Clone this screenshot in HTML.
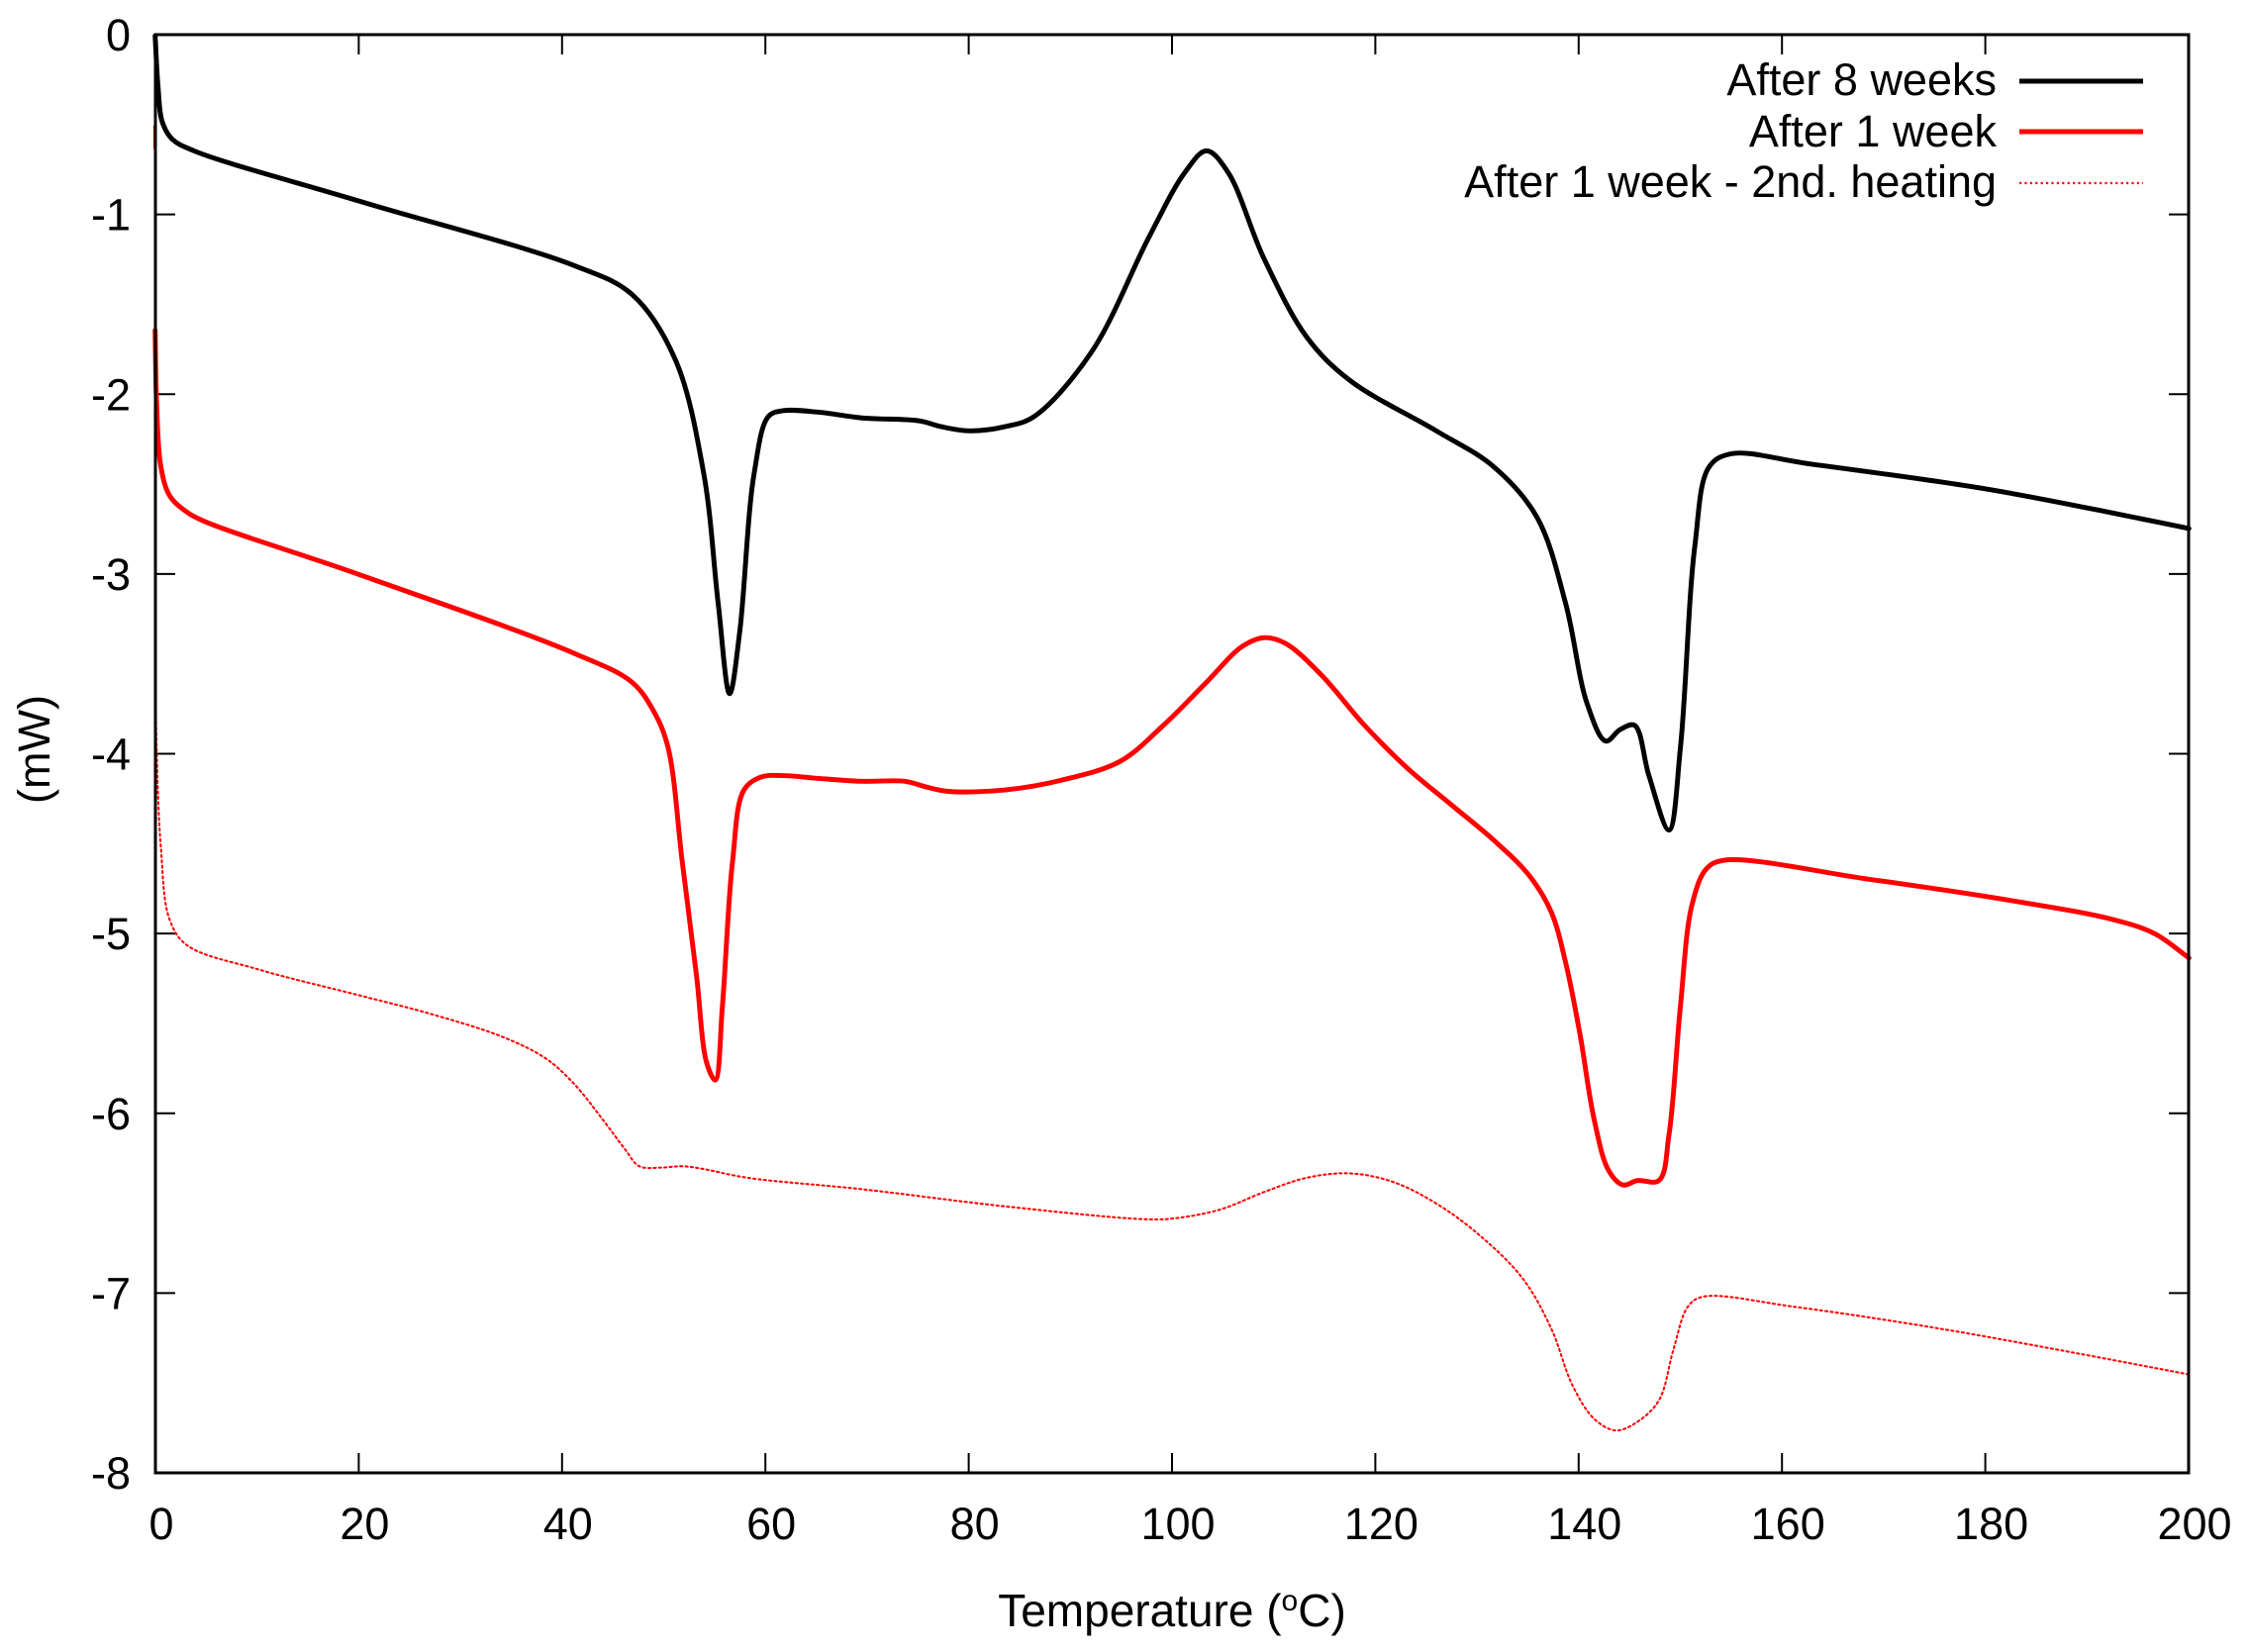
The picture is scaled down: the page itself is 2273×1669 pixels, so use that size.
<!DOCTYPE html>
<html><head><meta charset="utf-8"><style>
html,body{margin:0;padding:0;background:#fff;}
svg{display:block;}
text{font-family:"Liberation Sans",Arial,sans-serif;fill:#000;}
</style></head><body>
<svg id="s" width="2273" height="1669" viewBox="0 0 2273 1669" xmlns="http://www.w3.org/2000/svg">
<rect x="0" y="0" width="2273" height="1669" fill="#fff"/>
<g id="ticks" stroke="#000" stroke-width="2"></g>
<g id="labels" font-size="45"></g>
<g transform="scale(1.451)" fill="none" stroke-linejoin="round" stroke-linecap="round">
<path id="pd" stroke="#ff0000" stroke-width="1.4" stroke-dasharray="1.5 2.2"/>
<path id="pr" stroke="#ff0000" stroke-width="3.4"/>
<path id="pb" stroke="#000" stroke-width="3.4"/>
<path d="M108,88 L108,103" stroke="#ff0000" stroke-width="2.5"/>
</g>
<rect x="157" y="35" width="2054" height="1453" fill="none" stroke="#000" stroke-width="3"/>
<g font-size="45" text-anchor="end">
<text x="2017" y="96">After 8 weeks</text>
<text x="2017" y="148">After 1 week</text>
<text x="2017" y="199">After 1 week - 2nd. heating</text>
</g>
<line x1="2040" y1="82" x2="2165" y2="82" stroke="#000" stroke-width="5"/>
<line x1="2040" y1="133" x2="2165" y2="133" stroke="#ff0000" stroke-width="5"/>
<line x1="2040" y1="185" x2="2165" y2="185" stroke="#ff0000" stroke-width="2.2" stroke-dasharray="2.2 3.2"/>
<text x="1184" y="1643" font-size="46" text-anchor="middle">Temperature (<tspan font-size="30" dy="-16">o</tspan><tspan dy="16">C)</tspan></text>
<text transform="translate(50,757) rotate(-90)" font-size="45" text-anchor="middle">(mW)</text>
</svg>
<script>
function cr(p){var a=0.5;function dist(u,v){return Math.pow(Math.hypot(u[0]-v[0],u[1]-v[1]),a);}
var d="M"+p[0][0]+","+p[0][1];
for(var i=0;i<p.length-1;i++){var p0=p[i-1],p1=p[i],p2=p[i+1],p3=p[i+2];
var d2=dist(p1,p2),c1,c2;
if(!p0){c1=[p1[0]+(p2[0]-p1[0])/3,p1[1]+(p2[1]-p1[1])/3];}
else{var d1=dist(p0,p1);c1=[0,1].map(function(k){return (d1*d1*p2[k]-d2*d2*p0[k]+(2*d1*d1+3*d1*d2+d2*d2)*p1[k])/(3*d1*(d1+d2));});}
if(!p3){c2=[p2[0]-(p2[0]-p1[0])/3,p2[1]-(p2[1]-p1[1])/3];}
else{var d3=dist(p2,p3);c2=[0,1].map(function(k){return (d3*d3*p1[k]-d2*d2*p3[k]+(2*d3*d3+3*d3*d2+d2*d2)*p2[k])/(3*d3*(d3+d2));});}
d+=" C"+c1[0].toFixed(2)+","+c1[1].toFixed(2)+" "+c2[0].toFixed(2)+","+c2[1].toFixed(2)+" "+p2[0]+","+p2[1];}
return d;}
var B=[[108,25],[110,60],[113,85],[120,97],[135,105],[250,140],[400,185],[440,205],[470,250],[490,330],[500,420],[508,483],[515,440],[525,330],[535,290],[545,286],[570,287],[600,291],[640,293],[655,297],[675,300],[700,297],[720,290],[760,245],[800,165],[825,120],[840,105],[855,120],[880,180],[910,235],[940,265],[1000,300],[1040,325],[1070,360],[1090,420],[1105,490],[1118,516],[1128,508],[1138,505],[1148,540],[1162,578],[1170,520],[1180,380],[1190,325],[1205,316],[1260,323],[1380,340],[1460,355],[1524,368]];
var R=[[108,230],[109,280],[112,325],[118,345],[128,355],[140,362],[250,400],[400,455],[440,475],[455,495],[465,520],[475,600],[485,680],[492,740],[498,752],[503,700],[510,600],[518,550],[530,541],[545,540],[570,542],[600,544],[630,544],[645,548],[660,551],[700,550],[740,543],[780,530],[810,505],[840,475],[865,450],[880,444],[895,448],[920,470],[950,505],[980,535],[1010,560],[1040,585],[1065,610],[1080,635],[1090,670],[1100,720],[1110,780],[1120,815],[1130,825],[1140,822],[1155,822],[1162,790],[1170,700],[1178,630],[1188,605],[1200,599],[1300,612],[1400,627],[1470,640],[1500,650],[1524,667]];
var D=[[108,440],[109,520],[112,590],[118,640],[130,658],[180,675],[250,693],[300,706],[350,722],[380,737],[400,755],[420,780],[435,800],[445,812],[460,813],[475,812],[490,814],[520,820],[600,828],[700,840],[800,849],[820,848],[850,842],[880,830],[910,820],[940,817],[970,823],[1000,838],[1030,860],[1060,890],[1080,925],[1095,965],[1110,988],[1125,996],[1140,990],[1155,975],[1165,940],[1175,910],[1185,903],[1250,910],[1350,925],[1450,943],[1524,957]];
document.getElementById("pb").setAttribute("d",cr(B));
document.getElementById("pr").setAttribute("d",cr(R));
document.getElementById("pd").setAttribute("d",cr(D));
var NS="http://www.w3.org/2000/svg",tg=document.getElementById("ticks"),lg=document.getElementById("labels");
function el(g,n,a,t){var e=document.createElementNS(NS,n);for(var k in a)e.setAttribute(k,a[k]);if(t!==undefined)e.textContent=t;g.appendChild(e);}
var L=157,Rr=2211,T=35,Bt=1488;
for(var i=0;i<=10;i++){var x=L+i*(Rr-L)/10;el(tg,"line",{x1:x,y1:Bt,x2:x,y2:Bt-20});el(tg,"line",{x1:x,y1:T,x2:x,y2:T+20});
el(lg,"text",{x:x+6,y:1555,"text-anchor":"middle"},String(i*20));}
for(var j=0;j<=8;j++){var y=T+j*(Bt-T)/8;el(tg,"line",{x1:L,y1:y,x2:L+20,y2:y});el(tg,"line",{x1:Rr,y1:y,x2:Rr-20,y2:y});
el(lg,"text",{x:132,y:y+16,"text-anchor":"end"},j==0?"0":"-"+j);}
</script>
</body></html>
